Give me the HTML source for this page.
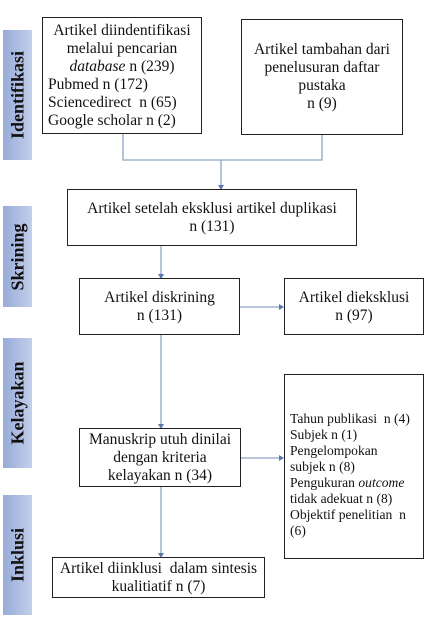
<!DOCTYPE html>
<html><head><style>
body{margin:0;width:427px;height:617px;background:#fff;position:relative;overflow:hidden;font-family:"Liberation Serif",serif;color:#111}
.b{position:absolute;border:1.3px solid #222;box-sizing:border-box;font-size:15.5px;line-height:18px;text-align:center;display:flex;flex-direction:column;justify-content:center;white-space:nowrap}
.bar{position:absolute;left:3px;width:29px;background:linear-gradient(90deg,#97abd8,#c3cfea);}
.bar span{position:absolute;left:50%;top:50%;transform:translate(-50%,-50%) rotate(-90deg);font-weight:bold;font-size:18px;white-space:nowrap;color:#111}
svg{position:absolute;left:0;top:0}
</style></head><body>
<div class="bar" style="top:30px;height:130px"><span>Identifikasi</span></div>
<div class="bar" style="top:206px;height:101px"><span>Skrining</span></div>
<div class="bar" style="top:338px;height:130px"><span>Kelayakan</span></div>
<div class="bar" style="top:495px;height:120px"><span>Inklusi</span></div>
<svg width="427" height="617">
<g stroke="#8fa3c8" stroke-width="1.3" fill="none">
<path d="M123 134V160H322V135"/><path d="M221 160V189"/>
<path d="M161 246V278"/><path d="M240 307H283"/>
<path d="M161 335V428"/><path d="M241 458H283"/>
<path d="M161 487V557"/>
</g>
<g fill="#5a77b0">
<path d="M218 185L224 185L221 190Z"/><path d="M158 274L164 274L161 279Z"/>
<path d="M279 304L279 310L284 307Z"/><path d="M158 424L164 424L161 429Z"/>
<path d="M279 455L279 461L284 458Z"/><path d="M158 553L164 553L161 558Z"/>
</g>
</svg>
<div class="b" style="left:42px;top:17px;width:160px;height:117px;"><div>Artikel diindentifikasi<br>melalui pencarian<br><i>database</i> n (239)</div><div style="text-align:left;padding-left:5px">Pubmed n (172)<br>Sciencedirect&nbsp; n (65)<br>Google scholar n (2)</div></div>
<div class="b" style="left:241px;top:19px;width:162px;height:116px;"><div>Artikel tambahan dari<br>penelusuran daftar<br>pustaka<br>n (9)</div></div>
<div class="b" style="left:67px;top:189px;width:290px;height:57px;"><div>Artikel setelah eksklusi artikel duplikasi<br>n (131)</div></div>
<div class="b" style="left:79px;top:278px;width:161px;height:57px;"><div>Artikel diskrining<br>n (131)</div></div>
<div class="b" style="left:284px;top:278px;width:140px;height:57px;"><div>Artikel dieksklusi<br>n (97)</div></div>
<div class="b" style="left:79px;top:428px;width:162px;height:59px;"><div>Manuskrip utuh dinilai<br>dengan kriteria<br>kelayakan n (34)</div></div>
<div class="b" style="left:284px;top:374px;width:140px;height:185px;text-align:left;padding-left:5px;padding-top:16px;font-size:13.6px;line-height:16px"><div>Tahun publikasi&nbsp; n (4)<br>Subjek n (1)<br>Pengelompokan<br>subjek n (8)<br>Pengukuran <i>outcome</i><br>tidak adekuat n (8)<br>Objektif penelitian&nbsp; n<br>(6)</div></div>
<div class="b" style="left:52px;top:557px;width:213px;height:41px;"><div>Artikel diinklusi&nbsp; dalam sintesis<br>kualitiatif n (7)</div></div>
</body></html>
